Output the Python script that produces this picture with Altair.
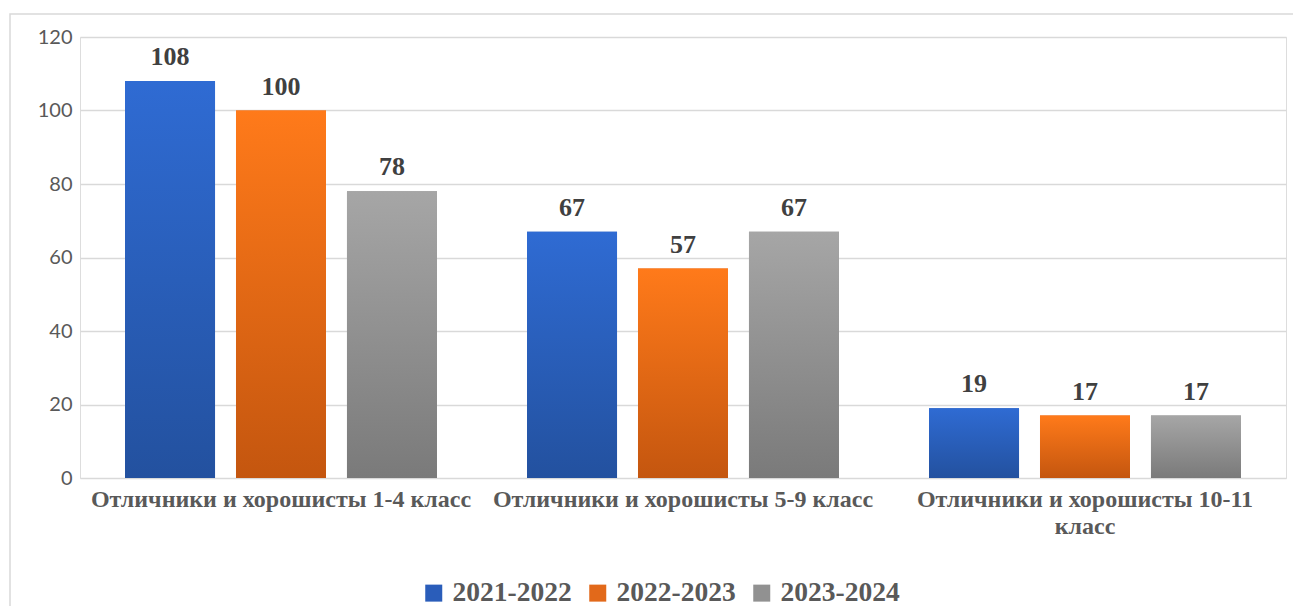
import altair as alt
import pandas as pd

categories = [
    "Отличники и хорошисты 1-4 класс",
    "Отличники и хорошисты 5-9 класс",
    "Отличники и хорошисты 10-11 класс",
]
series = ["2021-2022", "2022-2023", "2023-2024"]
values_2021 = [108, 67, 19]
values_2022 = [100, 57, 17]
values_2023 = [78, 67, 17]
y_ticks = [0, 20, 40, 60, 80, 100, 120]

solid_colors = ["#2A5DBA", "#E2691A", "#919191"]
grad_top = ["#2F6BD3", "#FF7A1A", "#A6A6A6"]
grad_bottom = ["#23519F", "#C4560F", "#7A7A7A"]

rows = []
for s, vals in zip(series, [values_2021, values_2022, values_2023]):
    for c, v in zip(categories, vals):
        rows.append({"category": c, "series": s, "value": v})
df = pd.DataFrame(rows)

SERIF = "Liberation Serif"

base = alt.Chart(df).encode(
    x=alt.X(
        "category:N",
        sort=categories,
        scale=alt.Scale(domain=categories, paddingInner=0.224, paddingOuter=0.112),
        axis=alt.Axis(
            title=None,
            labelAngle=0,
            labelFont=SERIF,
            labelFontWeight="bold",
            labelFontSize=24,
            labelColor="#595959",
            labelPadding=9,
            labelLimit=600,
            labelLineHeight=27,
            labelExpr="datum.value == 'Отличники и хорошисты 10-11 класс' ? ['Отличники и хорошисты 10-11', 'класс'] : datum.value",
            ticks=False,
            domain=False,
            grid=False,
        ),
    ),
    xOffset=alt.XOffset(
        "series:N",
        sort=series,
        scale=alt.Scale(domain=series, paddingInner=0.189, paddingOuter=0),
    ),
    y=alt.Y(
        "value:Q",
        scale=alt.Scale(domain=[0, 120], nice=False),
        axis=alt.Axis(
            title=None,
            values=y_ticks,
            labelFont="Lato",
            labelFontSize=20,
            labelColor="#595959",
            labelPadding=8,
            ticks=False,
            domain=False,
            grid=True,
            gridColor="#D9D9D9",
            gridWidth=1.5,
        ),
    ),
)

frame = alt.Chart(pd.DataFrame({"k": [0]})).mark_rect(
    fill="transparent", stroke="#D9D9D9", strokeWidth=1.5
).encode(
    x=alt.value(-70), x2=alt.value(1400), y=alt.value(-23), y2=alt.value(800)
)

legend_bars = base.mark_bar().encode(
    color=alt.Color(
        "series:N",
        sort=series,
        scale=alt.Scale(domain=series, range=solid_colors),
        legend=alt.Legend(
            title=None,
            orient="none",
            direction="horizontal",
            legendX=340,
            legendY=542,
            symbolType="square",
            symbolSize=289,
            symbolStrokeWidth=0,
            labelFont=SERIF,
            labelFontWeight="bold",
            labelFontSize=27.5,
            labelColor="#595959",
            labelOffset=5,
            columnPadding=12,
            labelLimit=300,
        ),
    )
)

grad_layers = []
for s, t, b in zip(series, grad_top, grad_bottom):
    grad_layers.append(
        base.transform_filter(alt.datum.series == s).mark_bar(
            color=alt.Gradient(
                gradient="linear",
                stops=[
                    alt.GradientStop(color=t, offset=0),
                    alt.GradientStop(color=b, offset=1),
                ],
                x1=0, x2=0, y1=0, y2=1,
            )
        )
    )

labels = base.mark_text(
    baseline="bottom",
    dy=-11,
    font=SERIF,
    fontWeight="bold",
    fontSize=26,
    color="#404040",
).encode(text="value:Q")

chart = alt.layer(frame, legend_bars, *grad_layers, labels).properties(
    width=1206,
    height=441,
    autosize=alt.AutoSizeParams(type="none"),
    padding={"left": 72, "top": 29, "right": 7, "bottom": 128},
).configure_view(stroke=None).configure(background="white")

chart.save("out.html", embed_options={"renderer": "svg", "actions": False})
